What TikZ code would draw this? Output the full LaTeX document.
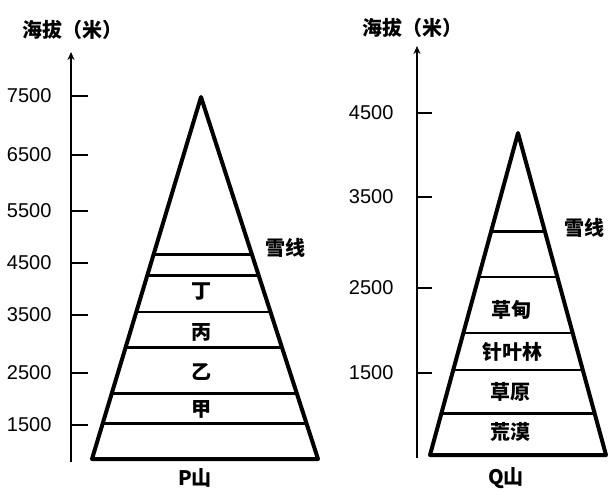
\documentclass[tikz,border=0pt]{standalone}
\usepackage{fontspec}
\setmainfont{Liberation Sans}
\newfontfamily\cjk{Noto Sans CJK SC}
\usetikzlibrary{calc,arrows.meta}

\begin{document}
\begin{tikzpicture}[x=1pt,y=-1pt,
    mountain/.style={line width=4pt,line join=round},
    band/.style={line width=2.8pt},
    axis/.style={line width=2.8pt,-{Stealth[length=8pt,width=7pt]}},
    tick/.style={line width=2.4pt},
    altnum/.style={anchor=east,font=\fontsize{20}{20}\selectfont},
    zone/.style={font=\cjk\bfseries\fontsize{20}{20}\selectfont}]
    \useasboundingbox (0,0) rectangle (609,490);

    % P mountain
    \node[zone] (ptitle) at (72,30) {海拔（米）};
    \coordinate (pbase) at (71,462);
    \coordinate (ptip) at (71,52);
    \draw[axis] (pbase) -- (ptip);
    \foreach \y/\v in {96/7500,155/6500,211/5500,263/4500,315/3500,373/2500,425/1500}
    {
      \draw[tick] (71,\y) -- (88,\y);
      \node[altnum] (p\v) at (55,\y) {\v};
    }

    \coordinate (ptop) at (201,97);
    \coordinate (pleft) at (92,459);
    \coordinate (pright) at (318,459);
    \draw[mountain] (ptop) -- (pright) -- (pleft) -- cycle;
    \foreach \t in {0.436,0.492,0.594,0.693,0.820,0.901}
      \draw[band] ($(ptop)!\t!(pleft)$) -- ($(ptop)!\t!(pright)$);

    \node[zone] (psnow) at (285,248) {雪线};
    \node[zone] (pding) at (201,292) {丁};
    \node[zone] (pbing) at (201,332) {丙};
    \node[zone] (pyi) at (201,372) {乙};
    \node[zone] (pjia) at (201,409) {甲};
    \node[zone] (pname) at (195,478) {P山};

    % Q mountain
    \node[zone] (qtitle) at (412,28) {海拔（米）};
    \coordinate (qbase) at (417,458);
    \coordinate (qtip) at (417,46);
    \draw[axis] (qbase) -- (qtip);
    \foreach \y/\v in {113/4500,197/3500,288/2500,373/1500}
    {
      \draw[tick] (417,\y) -- (432,\y);
      \node[altnum] (q\v) at (397,\y) {\v};
    }

    \coordinate (qtop) at (518,133);
    \coordinate (qleft) at (430,455);
    \coordinate (qright) at (606,455);
    \draw[mountain] (qtop) -- (qright) -- (qleft) -- cycle;
    \foreach \t in {0.307,0.447,0.621,0.736,0.870}
      \draw[band] ($(qtop)!\t!(qleft)$) -- ($(qtop)!\t!(qright)$);

    \node[zone] (qsnow) at (584,228) {雪线};
    \node[zone] (qmeadow) at (511,310) {草甸};
    \node[zone] (qforest) at (512,352) {针叶林};
    \node[zone] (qsteppe) at (510,392) {草原};
    \node[zone] (qdesert) at (510,432) {荒漠};
    \node[zone] (qname) at (506,478) {Q山};

\end{tikzpicture}
\end{document}
